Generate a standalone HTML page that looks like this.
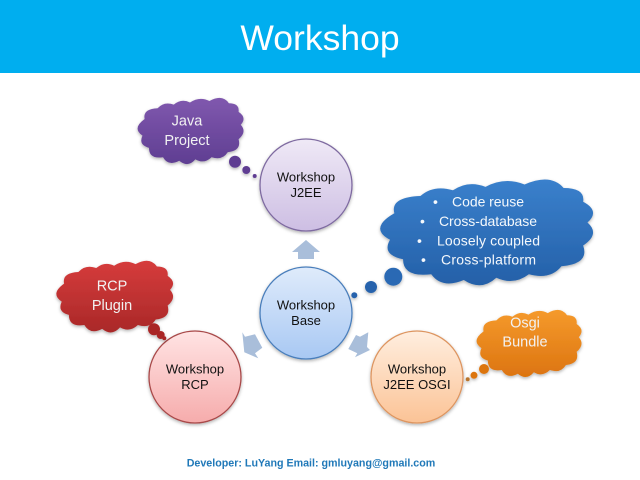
<!DOCTYPE html>
<html><head><meta charset="utf-8"><style>html,body{margin:0;padding:0;background:#fff}svg{display:block}text{font-family:"Liberation Sans",sans-serif}</style></head>
<body>
<svg width="640" height="480" viewBox="0 0 640 480" xmlns="http://www.w3.org/2000/svg">
<defs>
<filter id="s" x="-20%" y="-20%" width="140%" height="140%"><feDropShadow dx="0" dy="1.5" stdDeviation="1.5" flood-color="#000" flood-opacity="0.3"/></filter>
<linearGradient id="gp" x1="0" y1="0" x2="0" y2="1"><stop offset="0" stop-color="#8058AE"/><stop offset="1" stop-color="#5F3E92"/></linearGradient>
<linearGradient id="gb" x1="0" y1="0" x2="0" y2="1"><stop offset="0" stop-color="#3A80CC"/><stop offset="1" stop-color="#2460A8"/></linearGradient>
<linearGradient id="gr" x1="0" y1="0" x2="0" y2="1"><stop offset="0" stop-color="#D63C3C"/><stop offset="1" stop-color="#A92828"/></linearGradient>
<linearGradient id="go" x1="0" y1="0" x2="0" y2="1"><stop offset="0" stop-color="#F59A2C"/><stop offset="1" stop-color="#DC7410"/></linearGradient>
<linearGradient id="c1" x1="0" y1="0" x2="0" y2="1"><stop offset="0" stop-color="#EFE9F6"/><stop offset="1" stop-color="#CDBEE3"/></linearGradient>
<linearGradient id="c2" x1="0" y1="0" x2="0" y2="1"><stop offset="0" stop-color="#DFEBFB"/><stop offset="1" stop-color="#A8C8F3"/></linearGradient>
<linearGradient id="c3" x1="0" y1="0" x2="0" y2="1"><stop offset="0" stop-color="#FFE3E3"/><stop offset="1" stop-color="#F6ACAC"/></linearGradient>
<linearGradient id="c4" x1="0" y1="0" x2="0" y2="1"><stop offset="0" stop-color="#FFEEDF"/><stop offset="1" stop-color="#FBC396"/></linearGradient>
<path id="cl" d="M8 32Q6 18 20 17Q26 7 35 12Q42 3 50 9Q59 0 68 7Q80 -3 86 10Q96 10 95 22Q103 30 97 40Q103 50 95 60Q98 76 85 78Q80 90 70 85Q63 95 55 88Q48 100 40 90Q30 98 25 85Q12 88 12 72Q2 68 6 55Q-4 45 8 32Z"/>
</defs>
<rect x="0" y="0" width="640" height="73" fill="#00AEEF"/>
<text x="320" y="50" font-size="35.5" fill="#fff" text-anchor="middle">Workshop</text>

<polygon points="306,240 320,252 314,252 314,259 298,259 298,252 292,252" fill="#A9BEDA"/>
<polygon points="242.3,332.3 245,336.7 255,334.3 262.3,347.7 255,353.3 258.3,358.3 244.3,352.3" fill="#A9BEDA"/>
<polygon points="368.3,332.3 367,347 370,350 355,357.3 357.3,353.3 348.3,349 356,335 360,336.7" fill="#A9BEDA"/>

<g stroke-width="1.3">
<circle cx="306" cy="185" r="46" fill="url(#c1)" stroke="#7E6AA0" filter="url(#s)"/>
<circle cx="306" cy="313" r="46" fill="url(#c2)" stroke="#4A7EBB" filter="url(#s)"/>
<circle cx="195" cy="377" r="46" fill="url(#c3)" stroke="#A84848" filter="url(#s)"/>
<circle cx="417" cy="377" r="46" fill="url(#c4)" stroke="#DD9560" filter="url(#s)"/>
</g>

<g filter="url(#s)">
<use href="#cl" transform="translate(136 96) scale(1.08 .72)" fill="url(#gp)"/>
<circle cx="235" cy="161.7" r="6" fill="#5F3E92"/><circle cx="246.3" cy="170" r="4" fill="#5F3E92"/><circle cx="254.7" cy="176" r="2" fill="#5F3E92"/>
</g>
<g filter="url(#s)">
<use href="#cl" transform="translate(377 176.5) scale(2.17 1.15)" fill="url(#gb)"/>
<circle cx="393.3" cy="276.7" r="9" fill="#2B69B4"/><circle cx="371" cy="287" r="6" fill="#2562AC"/><circle cx="354.3" cy="295.3" r="3" fill="#2562AC"/>
</g>
<g filter="url(#s)">
<use href="#cl" transform="translate(54.6 258.7) scale(1.19 .78)" fill="url(#gr)"/>
<circle cx="154" cy="329.3" r="6" fill="#A92828"/><circle cx="160.7" cy="335" r="4" fill="#A92828"/><circle cx="164.3" cy="338.3" r="2" fill="#A92828"/>
</g>
<g filter="url(#s)">
<use href="#cl" transform="translate(475 308) scale(1.07 .73)" fill="url(#go)"/>
<circle cx="484" cy="369" r="5" fill="#DC7410"/><circle cx="474" cy="375.3" r="3.5" fill="#DC7410"/><circle cx="467.7" cy="379.3" r="2" fill="#B8752F"/>
</g>

<g font-size="13" fill="#111" text-anchor="middle">
<text x="306" y="181.5">Workshop</text><text x="306" y="197">J2EE</text>
<text x="306" y="309.5">Workshop</text><text x="306" y="325">Base</text>
<text x="195" y="373.5">Workshop</text><text x="195" y="389">RCP</text>
<text x="417" y="373.5">Workshop</text><text x="417" y="389">J2EE OSGI</text>
</g>

<g font-size="14.5" fill="#F2F2F2" text-anchor="middle">
<text x="187" y="125.7">Java</text><text x="187" y="145">Project</text>
<text x="112" y="290.7">RCP</text><text x="112" y="310">Plugin</text>
<text x="525" y="327.7">Osgi</text><text x="525" y="346.7">Bundle</text>
</g>
<g font-size="14" fill="#F4F8FC">
<text x="433" y="206.7">•</text><text x="452" y="206.7" textLength="72">Code reuse</text>
<text x="420" y="226">•</text><text x="439" y="226" textLength="98">Cross-database</text>
<text x="417" y="245.3">•</text><text x="437" y="245.3" textLength="103">Loosely coupled</text>
<text x="421" y="264.7">•</text><text x="441" y="264.7" textLength="95">Cross-platform</text>
</g>

<text x="311" y="466.7" font-size="10.7" font-weight="bold" fill="#1F78B8" text-anchor="middle">Developer: LuYang Email: gmluyang@gmail.com</text>
</svg>
</body></html>
